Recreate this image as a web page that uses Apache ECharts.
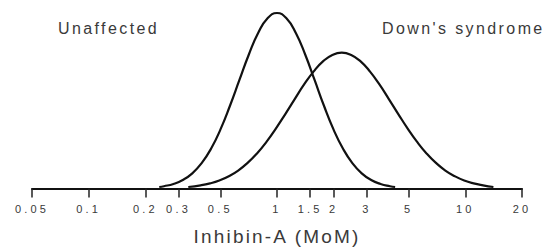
<!DOCTYPE html>
<html>
<head>
<meta charset="utf-8">
<script src="https://cdn.jsdelivr.net/npm/echarts@6/dist/echarts.min.js"></script>
<style>
  html, body { margin: 0; padding: 0; background: #fff; }
  #main { width: 551px; height: 251px; }
  #main text[style*="11px"] { letter-spacing: 3.2px; }
  #main text[style*="16px"] { letter-spacing: 2.4px; }
  #main text[style*="19px"] { letter-spacing: 2.2px; }
</style>
</head>
<body>
<div id="main"></div>
<script>
// Tick values on the log axis (MoM)
var tickValues = [0.05, 0.1, 0.2, 0.3, 0.5, 1, 1.5, 2, 3, 5, 10, 20];
var tickLabels = ['0.05', '0.1', '0.2', '0.3', '0.5', '1', '1.5', '2', '3', '5', '10', '20'];

// Unaffected distribution (MoM, relative height)
var unaffectedX = [0.237, 0.251, 0.282, 0.316, 0.355, 0.398, 0.447, 0.501, 0.562, 0.631, 0.708, 0.794, 0.891, 1, 1.122, 1.259, 1.413, 1.585, 1.778, 1.995, 2.239, 2.512, 2.818, 3.162, 3.548, 3.981, 4.24];
var unaffectedY = [1.5, 2.3, 4.6, 8.6, 15.3, 25.6, 40.3, 59.6, 83.2, 109.2, 134.9, 156.8, 171.7, 177, 171.7, 156.8, 134.9, 109.2, 83.2, 59.6, 40.3, 25.6, 15.3, 8.6, 4.6, 2.3, 1.5];

// Down's syndrome distribution (MoM, relative height)
var downX = [0.338, 0.393, 0.441, 0.494, 0.555, 0.622, 0.698, 0.783, 0.879, 0.986, 1.107, 1.242, 1.393, 1.563, 1.754, 1.968, 2.208, 2.477, 2.780, 3.119, 3.499, 3.926, 4.406, 4.943, 5.546, 6.223, 6.982, 7.834, 8.790, 9.863, 11.07, 12.42, 14.1];
var downY = [1.5, 3.2, 5.2, 8.1, 12.4, 18.1, 25.8, 35.4, 47.0, 60.4, 75.1, 90.2, 104.9, 117.9, 128.2, 134.7, 137, 134.7, 128.2, 117.9, 104.9, 90.2, 75.1, 60.4, 47.0, 35.4, 25.8, 18.1, 12.4, 8.1, 5.2, 3.2, 1.5];

var labelUnaffected = 'Unaffected';
var labelDown = "Down's syndrome";
var axisTitle = 'Inhibin-A (MoM)';

function pairs(xs, ys) {
  return xs.map(function (x, i) { return [x, ys[i]]; });
}

var FONT = '"Liberation Sans", Arial, Helvetica, sans-serif';
var TEXT = '#3a3a3a';

var chart = echarts.init(document.getElementById('main'), null, { renderer: 'svg' });
chart.setOption({
  animation: false,
  backgroundColor: '#ffffff',
  grid: { left: 32, right: 29, top: 13, bottom: 61, containLabel: false },
  xAxis: {
    type: 'log',
    logBase: 10,
    min: 0.05,
    max: 20,
    name: axisTitle,
    nameLocation: 'middle',
    nameGap: 48,
    nameTextStyle: { fontFamily: FONT, fontSize: 19, color: TEXT, verticalAlign: 'middle' },
    axisLine: { show: true, onZero: false, lineStyle: { color: '#111', width: 2 } },
    axisTick: { show: true, inside: false, length: 9, customValues: tickValues, lineStyle: { color: '#222', width: 1.5 } },
    axisLabel: {
      show: true, margin: 20, verticalAlign: 'middle', customValues: tickValues,
      fontFamily: FONT, fontSize: 11, color: TEXT,
      formatter: function (v) {
        var best = 0, bd = Infinity;
        for (var i = 0; i < tickValues.length; i++) {
          var d = Math.abs(Math.log(v) - Math.log(tickValues[i]));
          if (d < bd) { bd = d; best = i; }
        }
        return tickLabels[best];
      }
    },
    splitLine: { show: false },
    minorTick: { show: false }
  },
  yAxis: {
    type: 'value', min: 0, max: 177, show: false, splitLine: { show: false }
  },
  graphic: [
    { type: 'text', x: 58, y: 28.5, style: { text: labelUnaffected, font: '16px ' + FONT, fill: TEXT, verticalAlign: 'middle', textVerticalAlign: 'middle', align: 'left' } },
    { type: 'text', x: 382, y: 28.5, style: { text: labelDown, font: '16px ' + FONT, fill: TEXT, verticalAlign: 'middle', textVerticalAlign: 'middle', align: 'left' } }
  ],
  series: [
    {
      name: labelUnaffected, type: 'line', smooth: true, showSymbol: false, clip: false,
      lineStyle: { color: '#111', width: 2.2 },
      data: pairs(unaffectedX, unaffectedY)
    },
    {
      name: labelDown, type: 'line', smooth: true, showSymbol: false, clip: false,
      lineStyle: { color: '#111', width: 2.2 },
      data: pairs(downX, downY)
    }
  ]
});
</script>
</body>
</html>
